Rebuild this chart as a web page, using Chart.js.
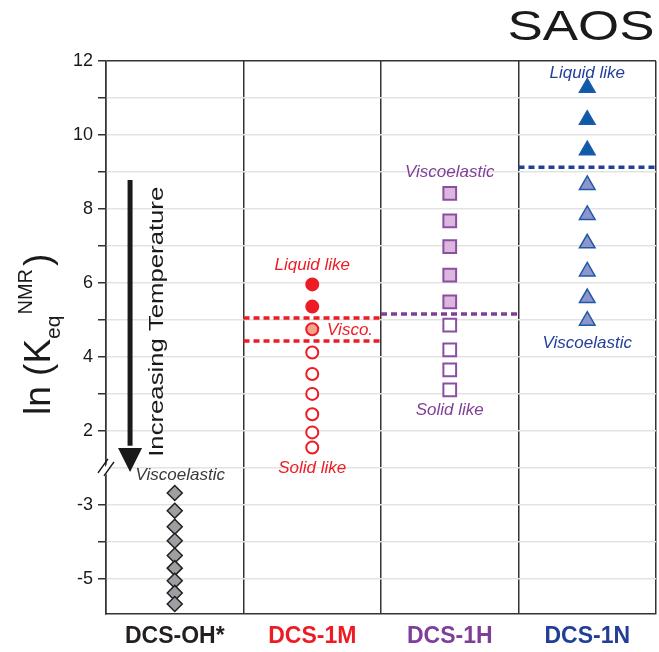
<!DOCTYPE html>
<html>
<head>
<meta charset="utf-8">
<script src="https://cdn.jsdelivr.net/npm/chart.js@4.4.1/dist/chart.umd.min.js"></script>
<style>
  html, body { margin: 0; padding: 0; background: #fff; }
  #wrap { width: 659px; height: 652px; position: relative; }
</style>
</head>
<body>
<div id="wrap"><canvas id="saosChart"></canvas></div>
<script>
// samples (one column each)
const categories = ['DCS-OH*', 'DCS-1M', 'DCS-1H', 'DCS-1N'];
const catColors = ['#231f20', '#ed1c24', '#7f3f98', '#233e97'];

// ln(Keq NMR) values, read top to bottom
const ohValues = [-2.68, -3.16, -3.59, -3.97, -4.37, -4.71, -5.05, -5.38, -5.68];
const mValues = [5.96, 5.36, 4.75, 4.12, 3.54, 3.00, 2.45, 1.96, 1.55];
const hValues = [8.42, 7.68, 6.98, 6.21, 5.49, 4.86, 4.19, 3.65, 3.11];
const nValues = [11.28, 10.41, 9.59, 8.65, 7.84, 7.07, 6.31, 5.59, 4.98];

// transition levels
const mBounds = [5.05, 4.43];
const hBound = 5.16;
const nBound = 9.13;

// tick labels of the broken axis
const upperTicks = [2, 4, 6, 8, 10, 12];
const lowerTicks = [-3, -5];

// broken axis: real values below -2 are shifted up by 3
const breakAt = -2;
const shift = 3;
function toAxis(v) { return v < breakAt ? v + shift : v; }
function fromAxis(c) { return c < breakAt + shift ? c - shift : c; }

function column(i, vals) {
  return vals.map(v => ({ x: i + 0.5, y: toAxis(v) }));
}
function level(i, v) {
  return [{ x: i, y: toAxis(v) }, { x: i + 1, y: toAxis(v) }];
}

const ctx = document.getElementById('saosChart').getContext('2d');

const dashStyle = { showLine: true, pointRadius: 0, borderWidth: 3.5, borderDash: [6, 4], order: 2 };

const data = {
  datasets: [
    Object.assign({ data: level(1, mBounds[0]), borderColor: '#ed1c24' }, dashStyle),
    Object.assign({ data: level(1, mBounds[1]), borderColor: '#ed1c24' }, dashStyle),
    Object.assign({ data: level(2, hBound), borderColor: '#7f3f98' }, dashStyle),
    Object.assign({ data: level(3, nBound), borderColor: '#223f9a' }, dashStyle),
    {
      data: column(0, ohValues),
      pointStyle: 'rectRot',
      pointRadius: 7.5,
      backgroundColor: '#9d9fa2',
      borderColor: '#231f20',
      borderWidth: 1.5,
      order: 1
    },
    {
      data: column(1, mValues),
      pointStyle: 'circle',
      pointRadius: 6,
      backgroundColor: mValues.map((v, i) => i < 2 ? '#ed1c24' : (i == 2 ? '#f4a48a' : '#ffffff')),
      borderColor: '#ed1c24',
      borderWidth: 2,
      order: 1
    },
    {
      data: column(2, hValues),
      pointStyle: 'rect',
      pointRadius: 9,
      backgroundColor: hValues.map((v, i) => i < 5 ? '#dcb6dc' : '#ffffff'),
      borderColor: '#8a4ea2',
      borderWidth: 2,
      order: 1
    },
    {
      data: column(3, nValues),
      pointStyle: 'triangle',
      pointRadius: 9,
      backgroundColor: nValues.map((v, i) => i < 3 ? '#0d5ba9' : '#8e95cc'),
      borderColor: '#1d5ba8',
      borderWidth: 1.5,
      order: 1
    }
  ]
};

// text, arrow and axis break drawn on top
const extras = {
  id: 'extras',
  afterDraw(chart) {
    const c = chart.ctx;
    const xs = chart.scales.x, ys = chart.scales.y;
    const px = v => xs.getPixelForValue(v);
    const py = v => ys.getPixelForValue(v);

    // annotations
    c.save();
    c.textAlign = 'center';
    c.textBaseline = 'middle';
    c.font = 'italic 17px "Liberation Sans", Arial, sans-serif';
    const notes = [
      ['Viscoelastic', 0.54, 0.81, '#3a3a3a'],
      ['Liquid like', 1.5, 6.49, '#ed1c24'],
      ['Visco.', 1.775, 4.73, '#ed1c24'],
      ['Solid like', 1.5, 1.0, '#ed1c24'],
      ['Viscoelastic', 2.5, 9.0, '#7f3f98'],
      ['Solid like', 2.5, 2.57, '#7f3f98'],
      ['Liquid like', 3.5, 11.68, '#223f9a'],
      ['Viscoelastic', 3.5, 4.38, '#223f9a']
    ];
    notes.forEach(n => {
      c.fillStyle = n[3];
      c.fillText(n[0], px(n[1]), py(n[2]));
    });
    c.restore();

    // temperature arrow
    const ax = px(0.175);
    c.save();
    c.strokeStyle = '#1a1a1a';
    c.fillStyle = '#1a1a1a';
    c.lineWidth = 5;
    c.beginPath();
    c.moveTo(ax, py(8.78));
    c.lineTo(ax, py(1.6));
    c.stroke();
    c.beginPath();
    c.moveTo(ax - 12, py(1.54));
    c.lineTo(ax + 12, py(1.54));
    c.lineTo(ax, py(0.89));
    c.closePath();
    c.fill();
    c.restore();

    // rotated label beside the arrow
    c.save();
    c.translate(px(0.37), py(4.95));
    c.rotate(-Math.PI / 2);
    c.font = '21px "Liberation Sans", Arial, sans-serif';
    const label = 'Increasing Temperature';
    const w = c.measureText(label).width;
    c.scale(270 / w, 1);
    c.fillStyle = '#1a1a1a';
    c.textAlign = 'center';
    c.textBaseline = 'middle';
    c.fillText(label, 0, 0);
    c.restore();

    // axis break mark
    const bx = chart.chartArea.left, by = py(1);
    c.save();
    c.fillStyle = '#ffffff';
    c.beginPath();
    c.moveTo(bx - 6, by + 6);
    c.lineTo(bx + 4, by - 8);
    c.lineTo(bx + 9, by - 6);
    c.lineTo(bx - 1, by + 8);
    c.closePath();
    c.fill();
    c.strokeStyle = '#1a1a1a';
    c.lineWidth = 1.5;
    c.beginPath();
    c.moveTo(bx - 8, by + 5);
    c.lineTo(bx + 2, by - 9);
    c.moveTo(bx - 2, by + 8);
    c.lineTo(bx + 8, by - 6);
    c.stroke();
    c.restore();

    // y axis title: ln (K_eq^NMR)
    c.save();
    c.translate(50, 415);
    c.rotate(-Math.PI / 2);
    c.fillStyle = '#1a1a1a';
    c.textAlign = 'left';
    c.textBaseline = 'alphabetic';
    let x = 0;
    c.font = '37px "Liberation Sans", Arial, sans-serif';
    c.fillText('ln (K', x, 0);
    x += c.measureText('ln (K').width;
    c.font = '21px "Liberation Sans", Arial, sans-serif';
    c.fillText('eq', x, 10);
    x += c.measureText('eq').width + 1;
    c.font = '20px "Liberation Sans", Arial, sans-serif';
    c.fillText('NMR', x, -18);
    x += c.measureText('NMR').width + 3;
    c.font = '37px "Liberation Sans", Arial, sans-serif';
    c.fillText(')', x, 0);
    c.restore();

    // panel title
    c.save();
    c.font = '42px "Liberation Sans", Arial, sans-serif';
    const tw = c.measureText('SAOS').width;
    c.translate(581, 40);
    c.scale(147 / tw, 1);
    c.fillStyle = '#1a1a1a';
    c.textAlign = 'center';
    c.textBaseline = 'alphabetic';
    c.fillText('SAOS', 0, 0);
    c.restore();
  }
};

const options = {
  responsive: true,
  maintainAspectRatio: false,
  animation: false,
  layout: { autoPadding: false, padding: { top: 61, right: 3, left: 0, bottom: 0 } },
  plugins: {
    legend: { display: false },
    tooltip: { enabled: false }
  },
  scales: {
    x: {
      type: 'linear',
      min: 0,
      max: 4,
      afterBuildTicks: scale => {
        scale.ticks = [0, 0.5, 1, 1.5, 2, 2.5, 3, 3.5, 4].map(v => ({ value: v }));
      },
      afterFit: scale => {
        scale.height = 38;
        scale.paddingLeft = 0;
        scale.paddingRight = 0;
      },
      grid: {
        drawTicks: false,
        lineWidth: 1.5,
        color: c => Number.isInteger(c.tick.value) ? '#333333' : 'rgba(0,0,0,0)'
      },
      border: { color: '#333333', width: 1.5 },
      ticks: {
        autoSkip: false,
        maxRotation: 0,
        padding: 9,
        font: { family: '"Liberation Sans", Arial, sans-serif', size: 23, weight: 'bold' },
        color: c => catColors[Math.min(3, Math.floor(c.tick.value))],
        callback: v => Number.isInteger(v) ? '' : categories[Math.floor(v)]
      }
    },
    y: {
      type: 'linear',
      min: -2.95,
      max: 12,
      afterBuildTicks: scale => {
        const t = [];
        for (let v = -2; v <= 12; v++) t.push({ value: v });
        scale.ticks = t;
      },
      afterFit: scale => {
        scale.width = 106;
        scale.paddingTop = 0;
        scale.paddingBottom = 0;
      },
      grid: {
        lineWidth: 1.5,
        tickLength: 8,
        color: c => c.tick.value === 12 ? '#333333' : '#e3e3e3',
        tickColor: c => c.tick.value === 1 ? 'rgba(0,0,0,0)' : '#333333'
      },
      border: { color: '#333333', width: 1.5 },
      ticks: {
        autoSkip: false,
        padding: 5,
        color: '#1a1a1a',
        font: { family: '"Liberation Sans", Arial, sans-serif', size: 18 },
        callback: v => {
          const real = fromAxis(v);
          if (upperTicks.includes(real) || lowerTicks.includes(real)) return String(real);
          return '';
        }
      }
    }
  }
};

const saosChart = new Chart(ctx, {
  type: 'scatter',
  data: data,
  options: options,
  plugins: [extras]
});
</script>
</body>
</html>
